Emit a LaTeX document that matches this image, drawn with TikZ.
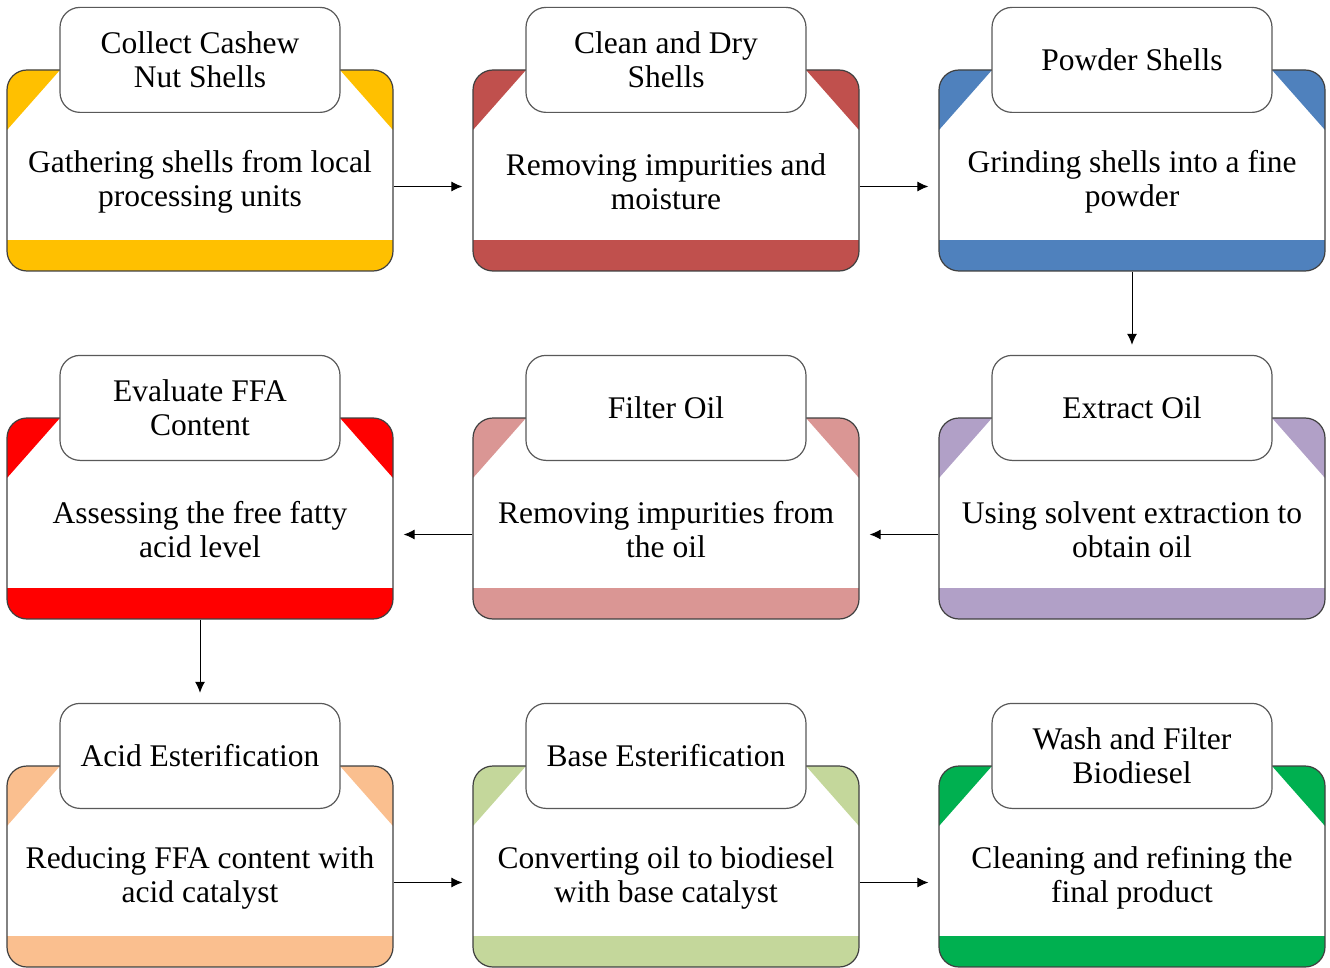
\documentclass[tikz,border=0pt]{standalone}
\usepackage{fontspec}
\setmainfont{Liberation Serif}
\usetikzlibrary{arrows.meta}
\definecolor{cardline}{HTML}{3F3F3F}
\definecolor{titleline}{HTML}{595959}
\definecolor{cashew}{HTML}{FFC000}
\definecolor{brick}{HTML}{C0504D}
\definecolor{steel}{HTML}{4F81BD}
\definecolor{lavender}{HTML}{B1A0C7}
\definecolor{rose}{HTML}{DA9694}
\definecolor{signal}{HTML}{FF0000}
\definecolor{peach}{HTML}{FABF8F}
\definecolor{sage}{HTML}{C4D79B}
\definecolor{leaf}{HTML}{00B050}
\tikzset{
  card/.style={draw=cardline, line width=1.2pt, rounded corners=20pt,
    minimum width=386pt, minimum height=201pt, inner sep=0pt,
    path picture={
      \fill[#1, sharp corners] (path picture bounding box.south west) rectangle
        ([yshift=31pt]path picture bounding box.south east);
      \fill[#1, sharp corners] (path picture bounding box.north west)
        -- ([xshift=53pt]path picture bounding box.north west)
        -- ([yshift=-60pt]path picture bounding box.north west) -- cycle;
      \fill[#1, sharp corners] (path picture bounding box.north east)
        -- ([xshift=-53pt]path picture bounding box.north east)
        -- ([yshift=-60pt]path picture bounding box.north east) -- cycle;
    }},
  titlebox/.style={draw=titleline, line width=1.2pt, fill=white, rounded corners=20pt,
    minimum width=280pt, minimum height=105pt, align=center, inner sep=0pt,
    font=\fontsize{31.5}{34}\selectfont},
  bodytext/.style={align=center, inner sep=0pt, font=\fontsize{31.5}{34}\selectfont},
  flow/.style={-{Latex[length=11pt,width=10pt]}, line width=1pt, shorten >=10pt}
}
\newcommand{\stepcard}[5]{% name, position, colour, title, text
\node[card=#3] (#1) at #2 {};
\node[bodytext] (#1text) at ([yshift=-11pt]#1.center) {#5};
\node[titlebox] (#1title) at ([yshift=9.5pt]#1.north) {#4};}

\begin{document}
\begin{tikzpicture}[x=1pt,y=-1pt]
\useasboundingbox (0,0) rectangle (1330,968);

% first row
\stepcard{collect}{(200,170.5)}{cashew}{Collect Cashew\\Nut Shells}{Gathering shells from local\\processing units}
\stepcard{clean}{(666,170.5)}{brick}{Clean and Dry\\Shells}{Removing impurities and\\moisture}
\stepcard{powder}{(1132,170.5)}{steel}{Powder Shells}{Grinding shells into a fine\\powder}

% second row
\stepcard{evaluate}{(200,518.5)}{signal}{Evaluate FFA\\Content}{Assessing the free fatty\\acid level}
\stepcard{filter}{(666,518.5)}{rose}{Filter Oil}{Removing impurities from\\the oil}
\stepcard{extract}{(1132,518.5)}{lavender}{Extract Oil}{Using solvent extraction to\\obtain oil}

% third row
\stepcard{acid}{(200,866.5)}{peach}{Acid Esterification}{Reducing FFA content with\\acid catalyst}
\stepcard{base}{(666,866.5)}{sage}{Base Esterification}{Converting oil to biodiesel\\with base catalyst}
\stepcard{wash}{(1132,866.5)}{leaf}{Wash and Filter\\Biodiesel}{Cleaning and refining the\\final product}

\draw[flow] ([yshift=-16pt]collect.east) -- ([yshift=-16pt]clean.west);
\draw[flow] ([yshift=-16pt]clean.east) -- ([yshift=-16pt]powder.west);
\draw[flow] (powder.south) -- (extracttitle.north);
\draw[flow] ([yshift=-16pt]extract.west) -- ([yshift=-16pt]filter.east);
\draw[flow] ([yshift=-16pt]filter.west) -- ([yshift=-16pt]evaluate.east);
\draw[flow] (evaluate.south) -- (acidtitle.north);
\draw[flow] ([yshift=-16pt]acid.east) -- ([yshift=-16pt]base.west);
\draw[flow] ([yshift=-16pt]base.east) -- ([yshift=-16pt]wash.west);

\end{tikzpicture}
\end{document}
